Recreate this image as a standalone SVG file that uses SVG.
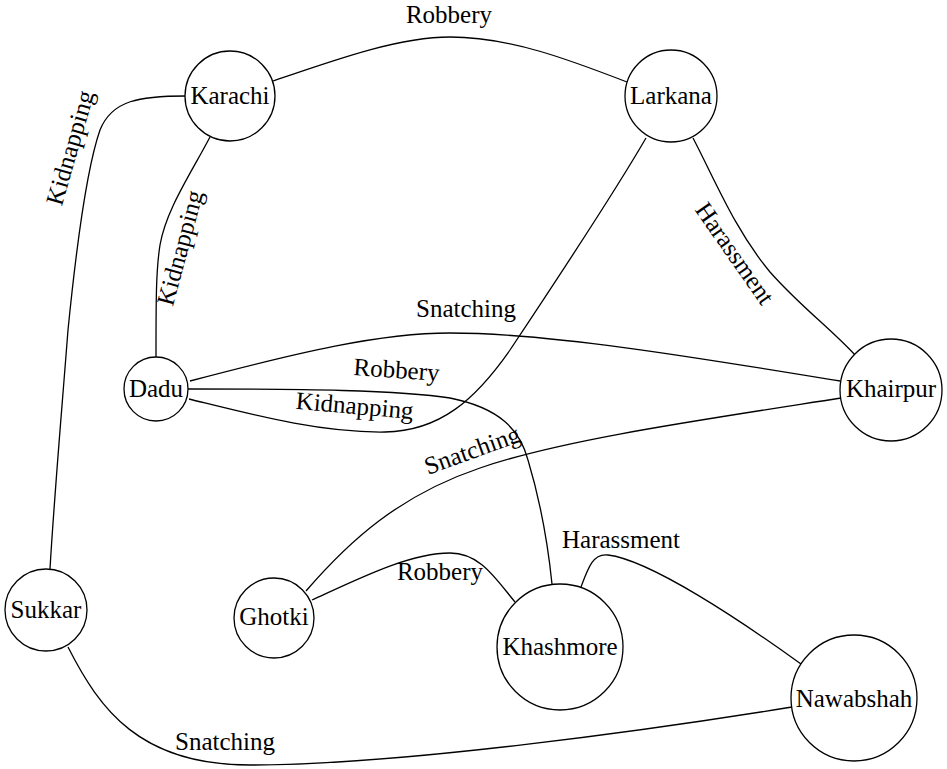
<svg xmlns="http://www.w3.org/2000/svg" width="947" height="769" viewBox="0 0 947 769" font-family="Liberation Serif, Times New Roman, DejaVu Serif, serif">
<style>
  .node circle { fill: #ffffff; stroke: #000000; stroke-width: 1.3; }
  text { font-family: 'Liberation Serif', 'Times New Roman', 'DejaVu Serif', serif; font-size: 25px; fill: #000000; text-anchor: middle; }
  .edges path { fill: none; stroke: #000000; stroke-width: 1.3; }
</style>
<rect width="947" height="769" fill="#ffffff"/>
<g class="edges" id="edges">
  <path d="M273,81 C340,58 400,37 450,37 C510,37 570,60 627,82"/>
  <text x="449" y="23">Robbery</text>
  <path d="M186,96 C140,96 112,100 100,130 C86,170 75,260 68,330 C61,420 54,500 50,569"/>
  <text transform="translate(78,150) rotate(-74)">Kidnapping</text>
  <path d="M210,137 C190,175 166,210 160,245 C156,270 156,300 156,357"/>
  <text transform="translate(188,250) rotate(-75)">Kidnapping</text>
  <path d="M190,381 C300,352 380,333 450,333 C550,333 700,358 840,381"/>
  <text x="466" y="317">Snatching</text>
  <path d="M188,389 C300,389 400,390 450,398 C500,408 520,430 528,460 C540,500 548,545 552,584"/>
  <text transform="translate(396,378) rotate(4)">Robbery</text>
  <path d="M189,399 C250,414 320,433 385,432 C440,431 475,400 510,350 C550,290 610,200 646,138"/>
  <text transform="translate(354,414) rotate(5)">Kidnapping</text>
  <path d="M693,138 C715,180 735,230 770,272 C800,306 830,328 855,355"/>
  <text transform="translate(728,258) rotate(55)">Harassment</text>
  <path d="M841,398 C700,420 560,440 480,468 C400,495 350,540 306,591"/>
  <text transform="translate(475,458) rotate(-20)">Snatching</text>
  <path d="M312,600 C360,578 410,553 450,553 C480,553 495,578 515,602"/>
  <text x="440" y="580">Robbery</text>
  <path d="M581,587 C588,568 593,553 608,555 C650,560 740,620 801,664"/>
  <text x="621" y="548">Harassment</text>
  <path d="M68,647 C100,710 140,765 250,765 C400,765 650,730 792,707"/>
  <text x="225" y="750">Snatching</text>
</g>
<g class="node" id="karachi"><circle cx="230" cy="96" r="45"/><text x="230" y="104">Karachi</text></g>
<g class="node" id="larkana"><circle cx="671" cy="96" r="46"/><text x="671" y="104">Larkana</text></g>
<g class="node" id="dadu"><circle cx="156" cy="389" r="32"/><text x="156" y="397">Dadu</text></g>
<g class="node" id="khairpur"><circle cx="891" cy="390" r="51"/><text x="891" y="397">Khairpur</text></g>
<g class="node" id="ghotki"><circle cx="274" cy="618" r="40"/><text x="274" y="625">Ghotki</text></g>
<g class="node" id="khashmore"><circle cx="560" cy="647" r="63"/><text x="560" y="655">Khashmore</text></g>
<g class="node" id="sukkar"><circle cx="46" cy="610" r="41"/><text x="46" y="618">Sukkar</text></g>
<g class="node" id="nawabshah"><circle cx="854" cy="698" r="63"/><text x="854" y="707">Nawabshah</text></g>
</svg>
